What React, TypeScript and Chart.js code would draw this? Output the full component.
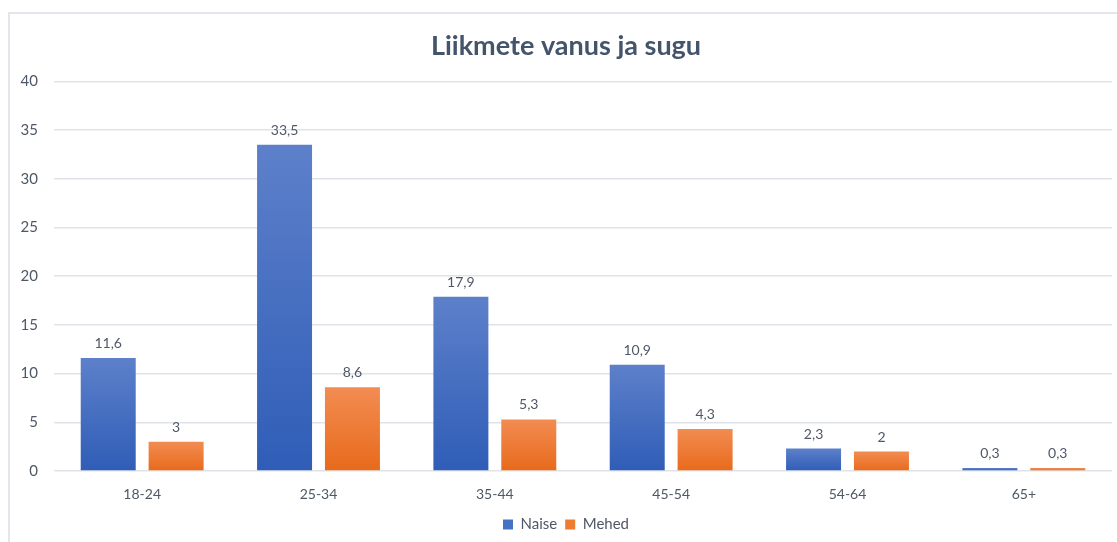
import React, { useEffect, useRef } from "react";
import { Chart, registerables } from "chart.js";

Chart.register(...registerables);

const categories = ["18-24", "25-34", "35-44", "45-54", "54-64", "65+"];
const naise = [11.6, 33.5, 17.9, 10.9, 2.3, 0.3];
const mehed = [3, 8.6, 5.3, 4.3, 2, 0.3];
const seriesNames = ["Naise", "Mehed"];
const yTicks = [0, 5, 10, 15, 20, 25, 30, 35, 40];
const titleText = "Liikmete vanus ja sugu";

const FONT = "Lato, 'Open Sans', sans-serif";
const TEXT = "#4f5866";

function gradientFor(top: string, bottom: string) {
  return (ctx: any) => {
    const chart = ctx.chart;
    const y = chart.scales?.y;
    if (!y || ctx.type !== "data") return bottom;
    const v = ctx.raw as number;
    const yTop = y.getPixelForValue(v);
    const yBot = y.getPixelForValue(0);
    if (!isFinite(yTop) || !isFinite(yBot) || yTop === yBot) return bottom;
    const g = chart.ctx.createLinearGradient(0, yTop, 0, yBot);
    g.addColorStop(0, top);
    g.addColorStop(1, bottom);
    return g;
  };
}

const dataLabels = {
  id: "dataLabels",
  afterDatasetsDraw(chart: any) {
    const ctx = chart.ctx;
    ctx.save();
    ctx.font = `14px ${FONT}`;
    ctx.fillStyle = TEXT;
    ctx.textAlign = "center";
    ctx.textBaseline = "alphabetic";
    chart.data.datasets.forEach((ds: any, di: number) => {
      const meta = chart.getDatasetMeta(di);
      meta.data.forEach((el: any, i: number) => {
        const v = ds.data[i];
        ctx.fillText(String(v).replace(".", ","), el.x, el.y - 10);
      });
    });
    ctx.restore();
  },
};

export default function App() {
  const ref = useRef<HTMLCanvasElement>(null);
  useEffect(() => {
    if (!ref.current) return;
    const chart = new Chart(ref.current, {
      type: "bar",
      data: {
        labels: categories,
        datasets: [
          {
            label: seriesNames[0],
            data: naise,
            backgroundColor: gradientFor("#5d80ca", "#2f5db7"),
            borderWidth: 0,
            categoryPercentage: 0.77,
            barPercentage: 0.81,
          },
          {
            label: seriesNames[1],
            data: mehed,
            backgroundColor: gradientFor("#f28c52", "#e86a1b"),
            borderWidth: 0,
            categoryPercentage: 0.77,
            barPercentage: 0.81,
          },
        ],
      },
      options: {
        responsive: false,
        animation: false,
        layout: { padding: { left: 10, right: 5, top: 0, bottom: 0 } },
        plugins: {
          title: {
            display: true,
            text: titleText,
            color: "#44546a",
            font: { family: FONT, size: 27, weight: "bold" },
            padding: { top: 16, bottom: 19 },
          },
          legend: {
            position: "bottom",
            labels: {
              boxWidth: 10,
              boxHeight: 10,
              color: TEXT,
              font: { family: FONT, size: 15 },
              padding: 8,
              generateLabels: (c: any) =>
                c.data.datasets.map((ds: any, i: number) => ({
                  text: ds.label,
                  fillStyle: i === 0 ? "#4472c4" : "#ed7d31",
                  strokeStyle: "transparent",
                  lineWidth: 0,
                  datasetIndex: i,
                  fontColor: TEXT,
                })),
            },
          },
          tooltip: { enabled: false },
        },
        scales: {
          x: {
            grid: { display: false, drawTicks: false },
            border: { display: false },
            ticks: { color: TEXT, font: { family: FONT, size: 14 }, padding: 15 },
            afterFit: (s: any) => {
              s.height = 38;
            },
          },
          y: {
            min: 0,
            max: 40,
            afterBuildTicks: (s: any) => {
              s.ticks = yTicks.map((v) => ({ value: v }));
            },
            grid: { color: "#dfe3e8", lineWidth: 1.5, drawTicks: false },
            border: { display: false },
            ticks: { color: TEXT, font: { family: FONT, size: 15 }, padding: 16 },
            afterFit: (s: any) => {
              s.width = 34;
            },
          },
        },
      },
      plugins: [dataLabels],
    });
    return () => chart.destroy();
  }, []);

  return (
    <div
      style={{
        position: "absolute",
        left: 8,
        top: 12,
        width: 1109,
        height: 530,
        borderLeft: "2px solid #e3e7ec",
        borderTop: "2px solid #e3e7ec",
        background: "#fff",
      }}
    >
      <canvas ref={ref} width={1107} height={528} style={{ display: "block", width: 1107, height: 528 }} />
    </div>
  );
}
